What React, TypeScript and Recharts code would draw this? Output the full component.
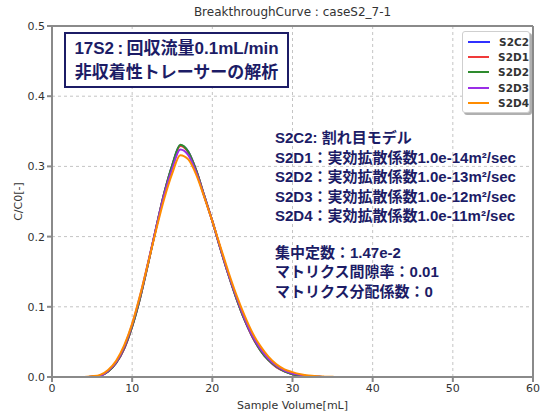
import React from "react";
import {
  LineChart,
  Line,
  XAxis,
  YAxis,
  CartesianGrid,
  ReferenceLine,
} from "recharts";

// Sample volume [mL]
const volumes = [
  0, 1, 2, 3, 4, 5, 6, 7, 8, 9, 10, 11, 12, 13, 14, 15, 16, 17, 18, 19, 20,
  21, 22, 23, 24, 25, 26, 27, 28, 29, 30, 31, 32, 33, 34, 35, 36, 40, 45, 50,
  55, 60,
];

// C/C0 per case
const s2c2 = [
  0, 0, 0, 0, 0, 0.0005, 0.002, 0.008, 0.02, 0.04, 0.072, 0.113, 0.162, 0.213,
  0.262, 0.302, 0.33, 0.321, 0.294, 0.258, 0.222, 0.183, 0.146, 0.112, 0.082,
  0.057, 0.038, 0.024, 0.014, 0.008, 0.004, 0.002, 0.001, 0.0005, 0, 0, 0, 0,
  0, 0, 0, 0,
];
const s2d1 = [
  0, 0, 0, 0, 0, 0.0005, 0.002, 0.008, 0.02, 0.04, 0.072, 0.113, 0.162, 0.213,
  0.262, 0.301, 0.329, 0.32, 0.294, 0.258, 0.222, 0.183, 0.146, 0.112, 0.082,
  0.057, 0.038, 0.024, 0.014, 0.008, 0.004, 0.002, 0.001, 0.0005, 0, 0, 0, 0,
  0, 0, 0, 0,
];
const s2d2 = [
  0, 0, 0, 0, 0, 0.0005, 0.002, 0.008, 0.02, 0.041, 0.072, 0.113, 0.162, 0.213,
  0.262, 0.302, 0.331, 0.321, 0.294, 0.258, 0.222, 0.183, 0.146, 0.112, 0.082,
  0.058, 0.038, 0.024, 0.015, 0.008, 0.004, 0.002, 0.001, 0.0005, 0, 0, 0, 0,
  0, 0, 0, 0,
];
const s2d3 = [
  0, 0, 0, 0, 0, 0.0005, 0.002, 0.009, 0.021, 0.043, 0.075, 0.116, 0.164,
  0.213, 0.26, 0.297, 0.324, 0.316, 0.291, 0.257, 0.222, 0.184, 0.147, 0.114,
  0.084, 0.059, 0.04, 0.026, 0.016, 0.009, 0.005, 0.003, 0.001, 0.0005, 0, 0,
  0, 0, 0, 0, 0, 0,
];
const s2d4 = [
  0, 0, 0, 0, 0, 0.001, 0.003, 0.01, 0.023, 0.045, 0.076, 0.117, 0.163, 0.21,
  0.254, 0.29, 0.316, 0.31, 0.288, 0.256, 0.222, 0.186, 0.15, 0.117, 0.088,
  0.063, 0.044, 0.029, 0.018, 0.011, 0.007, 0.004, 0.002, 0.001, 0.0005,
  0.0002, 0, 0, 0, 0, 0, 0,
];

const xTicks = [0, 10, 20, 30, 40, 50, 60];
const yTicks = [0, 0.1, 0.2, 0.3, 0.4, 0.5];

const series = [
  { key: "S2C2", color: "#3030ff" },
  { key: "S2D1", color: "#f03a3a" },
  { key: "S2D2", color: "#2e8b2e" },
  { key: "S2D3", color: "#9a2ee6" },
  { key: "S2D4", color: "#ff8c00" },
];

const captionLines = ["17S2\u2009:\u2009回収流量0.1mL/min", "非収着性トレーサーの解析"];
const noteLines = [
  "S2C2: 割れ目モデル",
  "S2D1：実効拡散係数1.0e-14m²/sec",
  "S2D2：実効拡散係数1.0e-13m²/sec",
  "S2D3：実効拡散係数1.0e-12m²/sec",
  "S2D4：実効拡散係数1.0e-11m²/sec",
];
const paramLines = ["集中定数：1.47e-2", "マトリクス間隙率：0.01", "マトリクス分配係数：0"];

const data = volumes.map((v, i) => ({
  v,
  S2C2: s2c2[i],
  S2D1: s2d1[i],
  S2D2: s2d2[i],
  S2D3: s2d3[i],
  S2D4: s2d4[i],
}));

const axisFont = "'DejaVu Sans', sans-serif";
const jpFont = "'Liberation Sans', 'Noto Sans CJK JP', sans-serif";
const navy = "#1c1c66";
const frame = "#8a8a8a";

export default function App() {
  return (
    <div style={{ position: "relative", width: 543, height: 415, background: "#fff" }}>
      <style>{`body{margin:0}`}</style>
      <LineChart
        width={543}
        height={415}
        data={data}
        margin={{ top: 26, right: 10, bottom: 8, left: 12 }}
      >
        <CartesianGrid stroke="#c4c4c4" strokeDasharray="3 3" />
        <XAxis
          dataKey="v"
          type="number"
          domain={[0, 60]}
          ticks={xTicks}
          height={30}
          stroke={frame}
          strokeWidth={2}
          tickSize={5}
          tick={{ fill: "#333", fontSize: 11, fontFamily: axisFont }}
          label={{
            value: "Sample Volume[mL]",
            position: "insideBottom",
            offset: -2,
            fill: "#333",
            fontSize: 11,
            fontFamily: axisFont,
          }}
        />
        <YAxis
          type="number"
          domain={[0, 0.5]}
          ticks={yTicks}
          width={40}
          stroke={frame}
          strokeWidth={2}
          tickSize={5}
          tickFormatter={(t: number) => t.toFixed(1)}
          tick={{ fill: "#333", fontSize: 11, fontFamily: axisFont }}
          label={{
            value: "C/C0[-]",
            angle: -90,
            position: "insideLeft",
            offset: 6,
            fill: "#333",
            fontSize: 11,
            fontFamily: axisFont,
            style: { textAnchor: "middle" },
          }}
        />
        <ReferenceLine y={0.5} stroke={frame} strokeWidth={2} />
        <ReferenceLine x={60} stroke={frame} strokeWidth={2} />
        {series.map((s) => (
          <Line
            key={s.key}
            type="monotone"
            dataKey={s.key}
            stroke={s.color}
            strokeWidth={2}
            dot={false}
            isAnimationActive={false}
          />
        ))}
      </LineChart>

      {/* title */}
      <div
        style={{
          position: "absolute",
          left: 52,
          width: 481,
          top: 5,
          textAlign: "center",
          fontFamily: axisFont,
          fontSize: 12,
          color: "#333",
        }}
      >
        BreakthroughCurve : caseS2_7-1
      </div>

      {/* boxed caption */}
      <div
        style={{
          position: "absolute",
          left: 64,
          top: 32,
          width: 225,
          height: 56,
          border: `2px solid ${navy}`,
          background: "#fff",
          color: navy,
          fontFamily: jpFont,
          fontWeight: "bold",
          fontSize: 17,
          lineHeight: "24px",
          textAlign: "center",
          paddingTop: 3,
          boxSizing: "border-box",
          whiteSpace: "nowrap",
        }}
      >
        {captionLines.map((t) => (
          <div key={t}>{t}</div>
        ))}
      </div>

      {/* case notes */}
      <div
        style={{
          position: "absolute",
          left: 275,
          top: 128,
          color: navy,
          fontFamily: jpFont,
          fontWeight: "bold",
          fontSize: 15,
          lineHeight: "19.5px",
          whiteSpace: "nowrap",
        }}
      >
        {noteLines.map((t) => (
          <div key={t}>{t}</div>
        ))}
        <div style={{ height: 17 }} />
        {paramLines.map((t) => (
          <div key={t}>{t}</div>
        ))}
      </div>

      {/* legend */}
      <div
        style={{
          position: "absolute",
          left: 462,
          top: 31,
          width: 68,
          height: 82,
          border: "1px solid #cfcfcf",
          borderRadius: 3,
          background: "#fff",
          boxShadow: "2px 2px 0 #b0b0b0",
          boxSizing: "border-box",
          paddingTop: 2,
        }}
      >
        {series.map((s) => (
          <div
            key={s.key}
            style={{ display: "flex", alignItems: "center", height: 15.4 }}
          >
            <div
              style={{
                marginLeft: 5,
                width: 23,
                height: 2,
                background: s.color,
              }}
            />
            <span
              style={{
                marginLeft: 9,
                fontFamily: axisFont,
                fontWeight: "bold",
                fontSize: 10.5,
                color: "#333",
              }}
            >
              {s.key}
            </span>
          </div>
        ))}
      </div>
    </div>
  );
}
